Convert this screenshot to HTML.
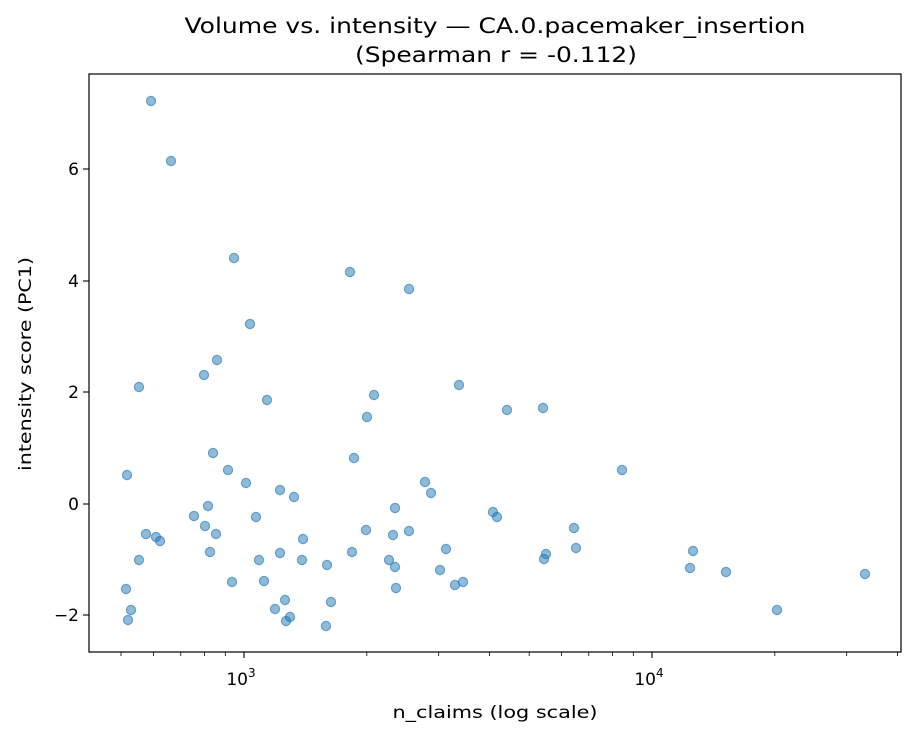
<!DOCTYPE html>
<html><head><meta charset="utf-8"><style>body{margin:0;background:#fff}svg{display:block}text{font-family:"DejaVu Sans","Liberation Sans",sans-serif;fill:#000}</style></head>
<body>
<svg width="917" height="736" viewBox="0 0 917 736" xmlns="http://www.w3.org/2000/svg">
<rect width="917" height="736" fill="#fff"/>
<text x="495" y="33" font-size="21" text-anchor="middle" textLength="621" lengthAdjust="spacingAndGlyphs">Volume vs. intensity — CA.0.pacemaker_insertion</text>
<text x="496" y="62" font-size="21" text-anchor="middle" textLength="282" lengthAdjust="spacingAndGlyphs">(Spearman r = -0.112)</text>
<g fill="#1f77b4" fill-opacity="0.5" stroke="#1f77b4" stroke-opacity="0.6" stroke-width="1.2">
<circle cx="151" cy="101" r="4.6"/><circle cx="171" cy="161" r="4.6"/><circle cx="234" cy="258" r="4.6"/><circle cx="350" cy="272" r="4.6"/><circle cx="409" cy="289" r="4.6"/><circle cx="250" cy="324" r="4.6"/><circle cx="217" cy="360" r="4.6"/><circle cx="204" cy="375" r="4.6"/><circle cx="139" cy="387" r="4.6"/><circle cx="267" cy="400" r="4.6"/><circle cx="374" cy="395" r="4.6"/><circle cx="459" cy="385" r="4.6"/><circle cx="367" cy="417" r="4.6"/><circle cx="507" cy="410" r="4.6"/><circle cx="543" cy="408" r="4.6"/><circle cx="127" cy="475" r="4.6"/><circle cx="213" cy="453" r="4.6"/><circle cx="228" cy="470" r="4.6"/><circle cx="354" cy="458" r="4.6"/><circle cx="622" cy="470" r="4.6"/><circle cx="246" cy="483" r="4.6"/><circle cx="425" cy="482" r="4.6"/><circle cx="431" cy="493" r="4.6"/><circle cx="280" cy="490" r="4.6"/><circle cx="294" cy="497" r="4.6"/><circle cx="256" cy="517" r="4.6"/><circle cx="208" cy="506" r="4.6"/><circle cx="194" cy="516" r="4.6"/><circle cx="205" cy="526" r="4.6"/><circle cx="146" cy="534" r="4.6"/><circle cx="156" cy="537" r="4.6"/><circle cx="160" cy="541" r="4.6"/><circle cx="216" cy="534" r="4.6"/><circle cx="303" cy="539" r="4.6"/><circle cx="395" cy="508" r="4.6"/><circle cx="366" cy="530" r="4.6"/><circle cx="409" cy="531" r="4.6"/><circle cx="393" cy="535" r="4.6"/><circle cx="493" cy="512" r="4.6"/><circle cx="497" cy="517" r="4.6"/><circle cx="574" cy="528" r="4.6"/><circle cx="139" cy="560" r="4.6"/><circle cx="210" cy="552" r="4.6"/><circle cx="259" cy="560" r="4.6"/><circle cx="280" cy="553" r="4.6"/><circle cx="302" cy="560" r="4.6"/><circle cx="352" cy="552" r="4.6"/><circle cx="389" cy="560" r="4.6"/><circle cx="446" cy="549" r="4.6"/><circle cx="395" cy="567" r="4.6"/><circle cx="327" cy="565" r="4.6"/><circle cx="440" cy="570" r="4.6"/><circle cx="546" cy="554" r="4.6"/><circle cx="544" cy="559" r="4.6"/><circle cx="576" cy="548" r="4.6"/><circle cx="693" cy="551" r="4.6"/><circle cx="690" cy="568" r="4.6"/><circle cx="726" cy="572" r="4.6"/><circle cx="865" cy="574" r="4.6"/><circle cx="232" cy="582" r="4.6"/><circle cx="264" cy="581" r="4.6"/><circle cx="126" cy="589" r="4.6"/><circle cx="396" cy="588" r="4.6"/><circle cx="455" cy="585" r="4.6"/><circle cx="463" cy="582" r="4.6"/><circle cx="131" cy="610" r="4.6"/><circle cx="128" cy="620" r="4.6"/><circle cx="275" cy="609" r="4.6"/><circle cx="285" cy="600" r="4.6"/><circle cx="290" cy="617" r="4.6"/><circle cx="286" cy="621" r="4.6"/><circle cx="331" cy="602" r="4.6"/><circle cx="326" cy="626" r="4.6"/><circle cx="777" cy="610" r="4.6"/>
</g>
<rect x="89" y="74" width="812" height="578" fill="none" stroke="#000" stroke-width="1.2"/>
<g stroke="#000" stroke-width="1.1">
<line x1="89" x2="83" y1="169" y2="169"/><line x1="89" x2="83" y1="281" y2="281"/><line x1="89" x2="83" y1="392" y2="392"/><line x1="89" x2="83" y1="504" y2="504"/><line x1="89" x2="83" y1="615" y2="615"/>
<line x1="244" x2="244" y1="652" y2="658"/><line x1="652" x2="652" y1="652" y2="658"/>
</g>
<g stroke="#000" stroke-width="0.8">
<line x1="121" x2="121" y1="652" y2="656"/><line x1="153.5" x2="153.5" y1="652" y2="656"/><line x1="180.8" x2="180.8" y1="652" y2="656"/><line x1="204.5" x2="204.5" y1="652" y2="656"/><line x1="225.3" x2="225.3" y1="652" y2="656"/>
<line x1="366.8" x2="366.8" y1="652" y2="656"/><line x1="438.7" x2="438.7" y1="652" y2="656"/><line x1="489.6" x2="489.6" y1="652" y2="656"/><line x1="529.2" x2="529.2" y1="652" y2="656"/><line x1="561.5" x2="561.5" y1="652" y2="656"/><line x1="588.8" x2="588.8" y1="652" y2="656"/><line x1="612.5" x2="612.5" y1="652" y2="656"/><line x1="633.3" x2="633.3" y1="652" y2="656"/>
<line x1="774.8" x2="774.8" y1="652" y2="656"/><line x1="846.7" x2="846.7" y1="652" y2="656"/><line x1="897.6" x2="897.6" y1="652" y2="656"/>
</g>
<g font-size="17" text-anchor="end">
<text x="79" y="175">6</text><text x="79" y="287">4</text><text x="79" y="398">2</text><text x="79" y="510">0</text><text x="79" y="621">−2</text>
</g>
<text x="241" y="685" font-size="17" text-anchor="middle">10<tspan font-size="12" dy="-8">3</tspan></text>
<text x="649" y="685" font-size="17" text-anchor="middle">10<tspan font-size="12" dy="-8">4</tspan></text>
<text x="495" y="718" font-size="17" text-anchor="middle" textLength="205" lengthAdjust="spacingAndGlyphs">n_claims (log scale)</text>
<text transform="translate(31,364) rotate(-90)" font-size="17" text-anchor="middle" textLength="214" lengthAdjust="spacingAndGlyphs">intensity score (PC1)</text>
</svg>
</body></html>
